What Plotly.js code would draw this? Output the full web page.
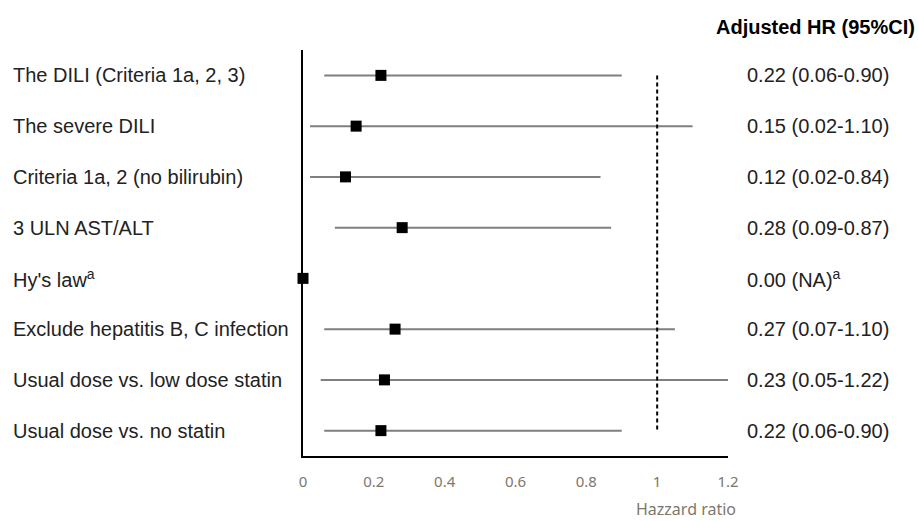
<!DOCTYPE html>
<html>
<head>
<meta charset="utf-8">
<script src="https://cdn.plot.ly/plotly-3.0.1.min.js"></script>
<style>html,body{margin:0;padding:0;background:#fff;}#chart{width:919px;height:521px;}</style>
</head>
<body>
<div id="chart"></div>
<script>
var categories = [
  "The DILI (Criteria 1a, 2, 3)",
  "The severe DILI",
  "Criteria 1a, 2 (no bilirubin)",
  "3 ULN AST/ALT",
  "Hy's law<sup>a</sup>",
  "Exclude hepatitis B, C infection",
  "Usual dose vs. low dose statin",
  "Usual dose vs. no statin"
];
var hr = [0.22, 0.15, 0.12, 0.28, 0.00, 0.26, 0.23, 0.22];
var ciLow = [0.06, 0.02, 0.02, 0.09, null, 0.06, 0.05, 0.06];
var ciHigh = [0.90, 1.10, 0.84, 0.87, null, 1.05, 1.22, 0.90];
var hrText = [
  "0.22 (0.06-0.90)",
  "0.15 (0.02-1.10)",
  "0.12 (0.02-0.84)",
  "0.28 (0.09-0.87)",
  "0.00 (NA)<sup>a</sup>",
  "0.27 (0.07-1.10)",
  "0.23 (0.05-1.22)",
  "0.22 (0.06-0.90)"
];
var xTicks = [0, 0.2, 0.4, 0.6, 0.8, 1, 1.2];

var rows = categories.map(function(_, i){ return i + 1; });

var lx = [], ly = [];
for (var i = 0; i < rows.length; i++) {
  if (ciLow[i] === null) continue;
  lx.push(ciLow[i], ciHigh[i], null);
  ly.push(rows[i], rows[i], null);
}

var traces = [
  {x: lx, y: ly, mode: 'lines', type: 'scatter', line: {color: '#7f7f7f', width: 2}, hoverinfo: 'skip', showlegend: false},
  {x: [1, 1], y: [rows[0], rows[rows.length-1]], mode: 'lines', type: 'scatter', line: {color: '#000', width: 2, dash: '4px,3px'}, hoverinfo: 'skip', showlegend: false},
  {x: hr, y: rows, mode: 'markers', type: 'scatter', cliponaxis: false,
   marker: {symbol: 'square', size: 11, color: '#000'}, showlegend: false}
];

var annotations = [];
var font = {family: 'Liberation Sans, Arial, sans-serif', size: 20, color: '#222'};
for (var j = 0; j < rows.length; j++) {
  annotations.push({xref: 'paper', yref: 'y', x: (11 - 303) / 425, y: rows[j], xanchor: 'left', yanchor: 'middle', text: categories[j], showarrow: false, font: font});
  annotations.push({xref: 'paper', yref: 'y', x: (745 - 303) / 425, y: rows[j], xanchor: 'left', yanchor: 'middle', text: hrText[j], showarrow: false, font: font});
}
annotations.push({xref: 'paper', yref: 'paper', x: (917 - 303) / 425, y: 1 + (50 - 27) / 406, xanchor: 'right', yanchor: 'middle', text: '<b>Adjusted HR (95%CI)</b>', showarrow: false, font: {family: 'Liberation Sans, Arial, sans-serif', size: 20, color: '#000'}});
annotations.push({xref: 'paper', yref: 'paper', x: (738 - 303) / 425, y: -(509 - 456) / 406, xanchor: 'right', yanchor: 'middle', text: 'Hazzard ratio', showarrow: false, font: {family: 'Noto Sans, DejaVu Sans, sans-serif', size: 16, color: '#7d776d'}});

var layout = {
  width: 919, height: 521,
  margin: {l: 303, r: 191, t: 50, b: 65},
  paper_bgcolor: '#fff', plot_bgcolor: '#fff',
  showlegend: false,
  xaxis: {range: [0, 1.2], tickvals: xTicks, ticktext: xTicks.map(String), showgrid: false, zeroline: false,
          showline: true, linecolor: '#000', linewidth: 2, ticks: '', ticklabelstandoff: 11,
          tickfont: {family: 'Noto Sans, DejaVu Sans, sans-serif', size: 15, color: '#7d776d'}, fixedrange: true},
  yaxis: {range: [8.5, 0.5], showgrid: false, zeroline: false, showticklabels: false, ticks: '',
          showline: true, linecolor: '#000', linewidth: 2, fixedrange: true},
  annotations: annotations
};

Plotly.newPlot('chart', traces, layout, {displayModeBar: false, staticPlot: true});
</script>
</body>
</html>
